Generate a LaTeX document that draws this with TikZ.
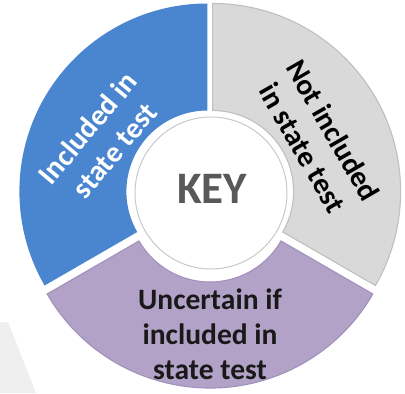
\documentclass[tikz,border=0pt]{standalone}
\usepackage{fontspec}
\setmainfont{Carlito}
\definecolor{segblue}{HTML}{4A86CF}
\definecolor{seggray}{HTML}{D9D9D9}
\definecolor{seggrayline}{HTML}{C0C0C0}
\definecolor{segpurple}{HTML}{B3A2C8}
\definecolor{segpurpleline}{HTML}{A391BC}
\definecolor{keygray}{HTML}{595959}
\definecolor{ringline}{HTML}{C8C8C8}
\definecolor{faint}{HTML}{EFEFEF}
\begin{document}
\begin{tikzpicture}[x=0.025cm,y=0.025cm,
  segtext/.style={font=\bfseries\fontsize{21}{25}\selectfont,align=center,inner sep=0pt},
  keytext/.style={font=\bfseries\fontsize{32}{36}\selectfont,text=keygray,inner sep=0pt}]
\useasboundingbox (0,0) rectangle (405,393);
% faint background shape
\fill[faint] (0,71) -- (8,71) -- (36,0) -- (0,0) -- cycle;
% blue sector
\begin{scope}[shift={(207.4,201.5)}]
  \fill[segblue] (90:188) arc[start angle=90,end angle=210,radius=188]
     -- (210:81) arc[start angle=210,end angle=90,radius=81] -- cycle;
\end{scope}
% gray sector
\begin{scope}[shift={(212.6,201.5)}]
  \filldraw[fill=seggray,draw=seggrayline,line width=0.8pt] (90:188) arc[start angle=90,end angle=-30,radius=188]
     -- (-30:81) arc[start angle=-30,end angle=90,radius=81] -- cycle;
\end{scope}
% purple sector
\begin{scope}[shift={(210,193)}]
  \filldraw[fill=segpurple,draw=segpurpleline,line width=0.8pt] (210:188) arc[start angle=210,end angle=330,radius=188]
     -- (330:82) arc[start angle=330,end angle=210,radius=82] -- cycle;
\end{scope}
% centre circle
\filldraw[fill=white,draw=ringline,line width=0.7pt] (211,200) circle[radius=76];
\node[keytext] (key) at (212,204) {KEY};
\node[segtext,text=white,rotate=50] (inc) at (101,254) {Included in\\state test};
\node[segtext,text=black,rotate=-60] (notinc) at (318,254) {Not included\\in state test};
\node[segtext,text=black!90] (unc) at (210,59) {Uncertain if\\included in\\state test};
\end{tikzpicture}
\end{document}
